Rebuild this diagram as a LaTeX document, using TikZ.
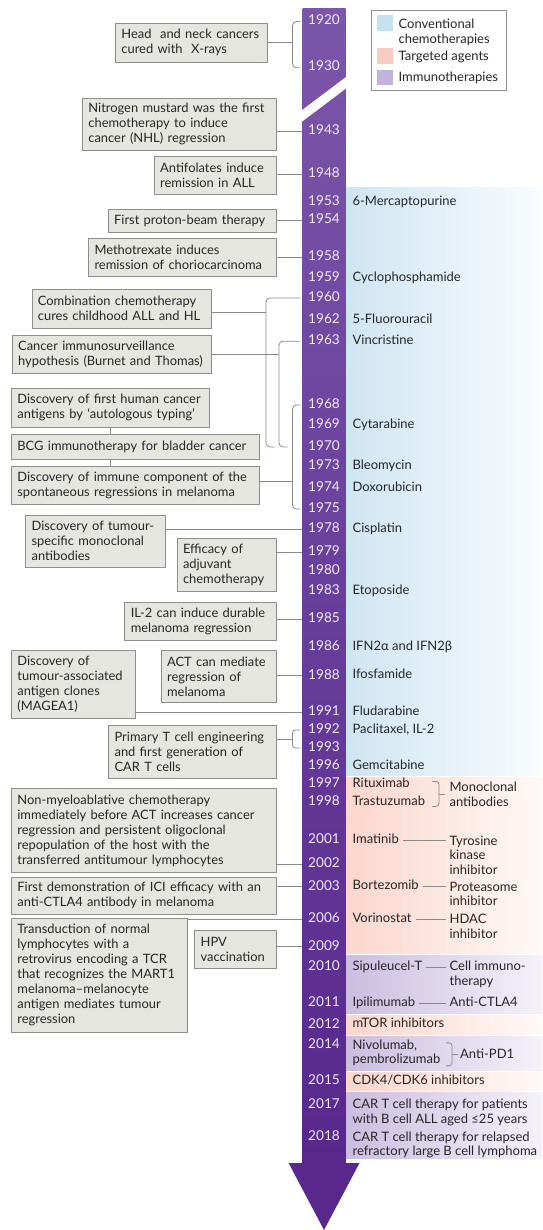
\documentclass[tikz,border=0pt]{standalone}
\usepackage{fontspec}
\setmainfont{Lato}
\usetikzlibrary{positioning}
\definecolor{barTop}{HTML}{7C56A9}
\definecolor{barBot}{HTML}{58288D}
\definecolor{yearInk}{HTML}{EEE9F6}
\definecolor{boxFill}{HTML}{E6E6E1}
\definecolor{boxLine}{HTML}{8E8E8E}
\definecolor{linkLine}{HTML}{8A8A8A}
\definecolor{ink}{HTML}{262626}
\definecolor{chemoBand}{HTML}{CFE5F2}
\definecolor{targetBand}{HTML}{FBD6CC}
\definecolor{immunoBand}{HTML}{CABDE0}
\definecolor{chemoKey}{HTML}{C5E2F2}
\definecolor{targetKey}{HTML}{F8CCC3}
\definecolor{immunoKey}{HTML}{C2B3DB}
\begin{document}
\begin{tikzpicture}[x=1pt,y=-1pt,
    every node/.style={text=ink},
    event box/.style={draw=boxLine,fill=boxFill,line width=0.8pt,anchor=north west,align=left,inner xsep=6pt,inner ysep=0pt,font=\fontsize{12.9}{15}\selectfont},
    year label/.style={text=yearInk,minimum width=43.2pt,inner sep=0pt,text height=9.6pt,text depth=3.2pt,font=\fontsize{13.6}{15}\selectfont},
    drug label/.style={inner sep=0pt,text height=9.4pt,text depth=3.1pt,font=\fontsize{13}{14.5}\selectfont},
    note label/.style={inner sep=0pt,align=left,anchor=west,font=\fontsize{13}{14.5}\selectfont},
    key swatch/.style={minimum width=16.2pt,minimum height=15.7pt,inner sep=0pt},
    link/.style={draw=linkLine,line width=0.8pt},
    bracket/.style={link,rounded corners=4pt}]
  \useasboundingbox (0,0) rectangle (542,1230);
  \shade[left color=chemoBand,right color=chemoBand!12] (345.7,187.5) rectangle (542,775);
  \shade[left color=targetBand,right color=targetBand!15] (345.7,777) rectangle (542,953.5);
  \shade[left color=immunoBand,right color=immunoBand!20] (345.7,955.5) rectangle (542,1013.5);
  \shade[left color=targetBand,right color=targetBand!15] (345.7,1015.5) rectangle (542,1034);
  \shade[left color=immunoBand,right color=immunoBand!20] (345.7,1036) rectangle (542,1070.5);
  \shade[left color=targetBand,right color=targetBand!15] (345.7,1072.5) rectangle (542,1090);
  \shade[left color=immunoBand,right color=immunoBand!20] (345.7,1092) rectangle (542,1158);
  \shade[top color=barTop,bottom color=barBot] (302.5,8.6) rectangle (345.7,1164);
  \fill[white] (301.5,110.5) -- (346.7,76.5) -- (346.7,88) -- (301.5,122) -- cycle;
  \fill[barBot] (288.6,1163) -- (359.5,1163) -- (324,1230) -- cycle;

  \node[draw=boxLine,line width=0.8pt,fill=white,anchor=north west,minimum width=135.4pt,minimum height=80.4pt,inner sep=0pt] (legend) at (371,9.8) {};
  \node[key swatch,fill=chemoKey] (kchemo) at (384.9,22.8) {};
  \node[key swatch,fill=targetKey] (ktarget) at (384.9,55.9) {};
  \node[key swatch,fill=immunoKey] (kimmuno) at (384.9,77.5) {};
  \node[note label,right=5.2pt of kchemo,yshift=-9.5pt] (lchemo) {Conventional\\chemotherapies};
  \node[drug label,right=5.2pt of ktarget,yshift=-1.5pt] (ltarget) {Targeted agents};
  \node[drug label,right=5.2pt of kimmuno,yshift=-1pt] (limmuno) {Immunotherapies};

  \node[year label] (y1920) at (324,21.6) {1920};
  \node[year label] (y1930) at (324,67.8) {1930};
  \node[year label] (y1943) at (324,131.4) {1943};
  \node[year label] (y1948) at (324,174) {1948};
  \node[year label] (y1953) at (324,202) {1953};
  \node[year label] (y1954) at (324,220) {1954};
  \node[year label] (y1958) at (324,257.6) {1958};
  \node[year label] (y1959) at (324,278.4) {1959};
  \node[year label] (y1960) at (324,298) {1960};
  \node[year label] (y1962) at (324,320.4) {1962};
  \node[year label] (y1963) at (324,341.2) {1963};
  \node[year label] (y1968) at (324,405) {1968};
  \node[year label] (y1969) at (324,425.5) {1969};
  \node[year label] (y1970) at (324,447) {1970};
  \node[year label] (y1973) at (324,466.7) {1973};
  \node[year label] (y1974) at (324,488.2) {1974};
  \node[year label] (y1975) at (324,509) {1975};
  \node[year label] (y1978) at (324,529.5) {1978};
  \node[year label] (y1979) at (324,552) {1979};
  \node[year label] (y1980) at (324,571.4) {1980};
  \node[year label] (y1983) at (324,591.4) {1983};
  \node[year label] (y1985) at (324,619.7) {1985};
  \node[year label] (y1986) at (324,647.2) {1986};
  \node[year label] (y1988) at (324,675.8) {1988};
  \node[year label] (y1991) at (324,711.9) {1991};
  \node[year label] (y1992) at (324,729.9) {1992};
  \node[year label] (y1993) at (324,747.9) {1993};
  \node[year label] (y1996) at (324,766) {1996};
  \node[year label] (y1997) at (324,784.4) {1997};
  \node[year label] (y1998) at (324,802.5) {1998};
  \node[year label] (y2001) at (324,840.5) {2001};
  \node[year label] (y2002) at (324,864) {2002};
  \node[year label] (y2003) at (324,886.8) {2003};
  \node[year label] (y2006) at (324,919) {2006};
  \node[year label] (y2009) at (324,946.8) {2009};
  \node[year label] (y2010) at (324,967.2) {2010};
  \node[year label] (y2011) at (324,1003.2) {2011};
  \node[year label] (y2012) at (324,1024.8) {2012};
  \node[year label] (y2014) at (324,1045.6) {2014};
  \node[year label] (y2015) at (324,1081.7) {2015};
  \node[year label] (y2017) at (324,1105.2) {2017};
  \node[year label] (y2018) at (324,1137.4) {2018};

  \node[event box,text width=140.2pt,minimum height=38.9pt] (head) at (115,22.7) {Head\ \ and neck cancers\\cured with\ \ X-rays};
  \node[event box,text width=181.5pt,minimum height=52.6pt] (nitro) at (82,97.6) {Nitrogen mustard was the first\\chemotherapy to induce\\cancer (NHL) regression};
  \node[event box,text width=109.7pt,minimum height=38.4pt] (antifol) at (153.8,155.7) {Antifolates induce\\remission in ALL};
  \node[event box,text width=155.7pt,minimum height=23.9pt] (proton) at (107.8,208.6) {First proton-beam therapy};
  \node[event box,text width=175.4pt,minimum height=38.9pt] (mtx) at (88.1,237.6) {Methotrexate induces\\remission of choriocarcinoma};
  \node[event box,text width=167.7pt,minimum height=38.8pt] (combo) at (31.5,289) {Combination chemotherapy\\cures childhood ALL and HL};
  \node[event box,text width=187.4pt,minimum height=38.8pt] (immsurv) at (11.8,334.5) {Cancer immunosurveillance\\hypothesis (Burnet and Thomas)};
  \node[event box,text width=185.8pt,minimum height=38.5pt] (antigens) at (11,388.2) {Discovery of first human cancer\\antigens by ‘autologous typing’};
  \node[event box,text width=235.6pt,minimum height=25.1pt] (bcg) at (11,433.7) {BCG immunotherapy for bladder cancer};
  \node[event box,text width=235.6pt,minimum height=37.7pt] (immcomp) at (11,466.3) {Discovery of immune component of the\\spontaneous regressions in melanoma};
  \node[event box,text width=127.7pt,minimum height=52.2pt] (mab) at (25.2,514.5) {Discovery of tumour-\\specific monoclonal\\antibodies};
  \node[event box,text width=86.9pt,minimum height=52.6pt] (adjuv) at (176.6,538.4) {Efficacy of\\adjuvant\\chemotherapy};
  \node[event box,text width=139.1pt,minimum height=38pt] (il2) at (124.4,601.7) {IL-2 can induce durable\\melanoma regression};
  \node[event box,text width=111.5pt,minimum height=67.8pt] (mage) at (11,650.3) {Discovery of\\tumour-associated\\antigen clones\\(MAGEA1)};
  \node[event box,text width=102.8pt,minimum height=51.7pt] (act) at (160.7,650.3) {ACT can mediate\\regression of\\melanoma};
  \node[event box,text width=155.3pt,minimum height=52.5pt] (cart) at (108.2,725.2) {Primary T cell engineering\\and first generation of\\CAR T cells};
  \node[event box,text width=252.5pt,minimum height=83.9pt] (nonmyelo) at (11,788) {Non-myeloablative chemotherapy\\immediately before ACT increases cancer\\regression and persistent oligoclonal\\repopulation of the host with the\\transferred antitumour lymphocytes};
  \node[event box,text width=252.5pt,minimum height=37.6pt] (ici) at (11,876.6) {First demonstration of ICI efficacy with an\\anti-CTLA4 antibody in melanoma};
  \node[event box,text width=163.7pt,minimum height=113.8pt] (tcr) at (11,918.1) {Transduction of normal\\lymphocytes with a\\retrovirus encoding a TCR\\that recognizes the MART1\\melanoma--melanocyte\\antigen mediates tumour\\regression};
  \node[event box,text width=69.2pt,minimum height=38.4pt] (hpv) at (194.3,929.5) {HPV\\vaccination};

  \node[drug label,right=6.6pt of y1953] (mercapto) {6-Mercaptopurine};
  \node[drug label,right=6.6pt of y1959] (cyclo) {Cyclophosphamide};
  \node[drug label,right=6.6pt of y1962] (fluoro) {5-Fluorouracil};
  \node[drug label,right=6.6pt of y1963] (vincri) {Vincristine};
  \node[drug label,right=6.6pt of y1969] (cytara) {Cytarabine};
  \node[drug label,right=6.6pt of y1973] (bleo) {Bleomycin};
  \node[drug label,right=6.6pt of y1974] (doxo) {Doxorubicin};
  \node[drug label,right=6.6pt of y1978] (cispl) {Cisplatin};
  \node[drug label,right=6.6pt of y1983] (etopo) {Etoposide};
  \node[drug label,right=6.6pt of y1986] (ifn) {IFN2α and IFN2β};
  \node[drug label,right=6.6pt of y1988] (ifos) {Ifosfamide};
  \node[drug label,right=6.6pt of y1991] (fluda) {Fludarabine};
  \node[drug label,right=6.6pt of y1992] (pacli) {Paclitaxel, IL-2};
  \node[drug label,right=6.6pt of y1996] (gemci) {Gemcitabine};
  \node[drug label,right=6.6pt of y1997] (ritux) {Rituximab};
  \node[drug label,right=6.6pt of y1998] (trastu) {Trastuzumab};
  \node[drug label,right=6.6pt of y2001] (imatinib) {Imatinib};
  \node[drug label,right=6.6pt of y2003] (bortez) {Bortezomib};
  \node[drug label,right=6.6pt of y2006] (vorino) {Vorinostat};
  \node[drug label,right=6.6pt of y2010] (sipu) {Sipuleucel-T};
  \node[drug label,right=6.6pt of y2011] (ipili) {Ipilimumab};
  \node[drug label,right=6.6pt of y2012] (mtor) {mTOR inhibitors};
  \node[note label,right=6.6pt of y2014,yshift=-7.25pt] (nivo) {Nivolumab,\\pembrolizumab};
  \node[drug label,right=6.6pt of y2015] (cdk) {CDK4/CDK6 inhibitors};
  \node[note label,right=6.6pt of y2017,yshift=-7.25pt] (car17) {CAR T cell therapy for patients\\with B cell ALL aged ≤25 years};
  \node[note label,right=6.6pt of y2018,yshift=-7.25pt] (car18) {CAR T cell therapy for relapsed\\refractory large B cell lymphoma};

  \coordinate (lab2) at (449.4,0);
  \coordinate (lab3) at (460,0);
  \node[note label,yshift=-10pt] (mono) at (lab2 |- y1997) {Monoclonal\\antibodies};
  \node[note label,yshift=-14.5pt] (tyrosine) at (lab2 |- y2001) {Tyrosine\\kinase\\inhibitor};
  \node[note label,yshift=-7.25pt] (protea) at (lab2 |- y2003) {Proteasome\\inhibitor};
  \node[note label,yshift=-7.25pt] (hdac) at (lab2 |- y2006) {HDAC\\inhibitor};
  \node[note label,yshift=-7.25pt] (cellimm) at (lab2 |- y2010) {Cell immuno-\\therapy};
  \node[drug label,anchor=west] (ctla) at (lab2 |- y2011) {Anti-CTLA4};
  \node[drug label,anchor=west,yshift=-2pt] (antipd) at (lab3 |- nivo) {Anti-PD1};

  \coordinate (k1) at ([xshift=-9.7pt]y1920.west);
  \draw[bracket] ([xshift=-1.8pt]y1920.west) -| (k1 |- y1930) -- ([xshift=-1.8pt]y1930.west);
  \draw[link] (head.east) -- (head.east -| k1);
  \draw[link] (nitro.east |- y1943) -- (y1943.west);
  \draw[link] (antifol.east |- y1948) -- (y1948.west);
  \draw[link] (proton.east |- y1954) -- (y1954.west);
  \draw[link] (mtx.east |- y1958) -- (y1958.west);
  \coordinate (k2) at ([xshift=-36.3pt]y1960.west);
  \coordinate (c2) at ([yshift=-3.4pt]combo.east);
  \draw[bracket] ([xshift=-1.8pt]y1960.west) -| (k2 |- y1970) -- ([xshift=-27.7pt]y1970.west);
  \draw[link] (c2) -- (c2 -| k2);
  \coordinate (k3) at ([xshift=-23.2pt]y1963.west);
  \draw[bracket] ([xshift=-1.8pt]y1963.west) -| (k3 |- y1970) -- ([xshift=-14.5pt]y1970.west);
  \draw[link] (immsurv.east) -- (immsurv.east -| k3);
  \coordinate (k4) at ([xshift=-9.7pt]y1968.west);
  \coordinate (c4) at ([yshift=4pt]immcomp.east);
  \draw[bracket] ([xshift=-1.8pt]y1968.west) -| (k4 |- y1975) -- ([xshift=-1.8pt]y1975.west);
  \draw[link] (c4) -- (c4 -| k4);
  \draw[link] (antigens.south) -- (antigens.south |- bcg.north);
  \draw[link] (antigens.south |- bcg.south) -- (antigens.south |- immcomp.north);
  \draw[link] (mab.east |- y1978) -- (y1978.west);
  \draw[link] (adjuv.east |- y1979) -- (y1979.west);
  \draw[link] (il2.east |- y1985) -- (y1985.west);
  \draw[link] (act.east |- y1988) -- (y1988.west);
  \draw[link] (mage.east |- y1991) -- (y1991.west);
  \coordinate (k5) at ([xshift=-9.7pt]y1992.west);
  \coordinate (c5) at ([yshift=12pt]cart.east);
  \draw[bracket,rounded corners=3pt] ([xshift=-1.8pt]y1992.west) -| (k5 |- y1993) -- ([xshift=-1.8pt]y1993.west);
  \draw[link] (c5) -- (c5 -| k5);
  \draw[link] (nonmyelo.east |- y2002) -- (y2002.west);
  \draw[link] (ici.east |- y2003) -- (y2003.west);
  \draw[link] (tcr.east |- y2006) -- (y2006.west);
  \draw[link] (hpv.east |- y2009) -- (y2009.west);

  \draw[bracket,rounded corners=3pt] ([xshift=-17pt,yshift=13pt]mono.west) -| ([xshift=-10.5pt]mono.west) |- ([xshift=-17pt,yshift=-12pt]mono.west);
  \draw[link] ([xshift=-10.5pt]mono.west) -- ([xshift=-4.5pt]mono.west);
  \draw[link,shorten <=4pt,shorten >=3pt] (imatinib.east) -- (tyrosine.west |- imatinib.east);
  \draw[link,shorten <=4pt,shorten >=3pt] (bortez.east) -- (protea.west |- bortez.east);
  \draw[link,shorten <=4pt,shorten >=3pt] (vorino.east) -- (hdac.west |- vorino.east);
  \draw[link,shorten <=4pt,shorten >=3pt] (sipu.east) -- (cellimm.west |- sipu.east);
  \draw[link,shorten <=4pt,shorten >=3pt] (ipili.east) -- (ctla.west);
  \draw[bracket,rounded corners=3pt] ([xshift=-14pt,yshift=12pt]antipd.west) -| ([xshift=-8pt]antipd.west) |- ([xshift=-14pt,yshift=-11pt]antipd.west);
  \draw[link] ([xshift=-8pt]antipd.west) -- ([xshift=-2.5pt]antipd.west);
\end{tikzpicture}
\end{document}
